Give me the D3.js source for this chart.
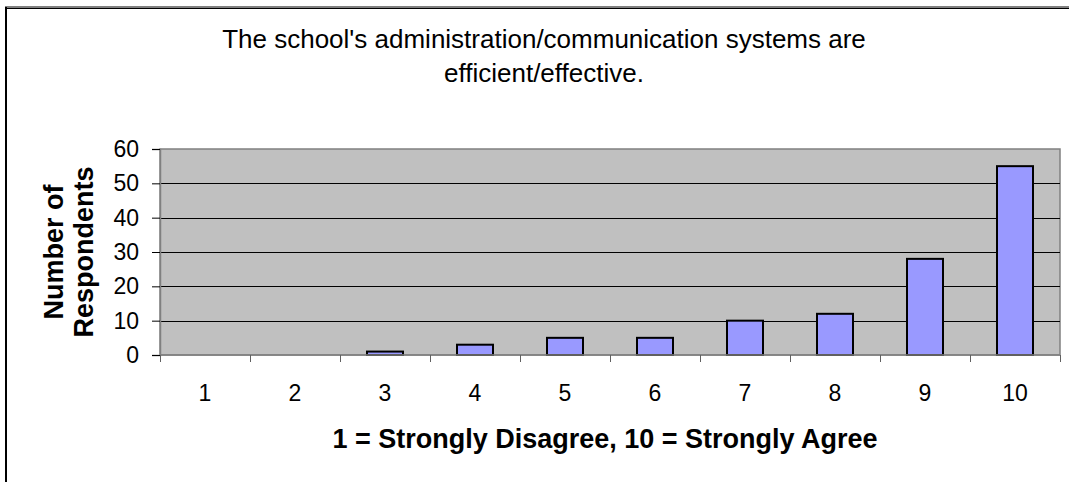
<!DOCTYPE html>
<html>
<head>
<meta charset="utf-8">
<script src="https://cdn.jsdelivr.net/npm/d3@7"></script>
<style>
  body { margin: 0; background: #fff; }
  text { font-family: "Liberation Sans", Arial, sans-serif; fill: #000; }
</style>
</head>
<body>
<div id="chart"></div>
<script>
// Survey response counts per rating
const categories = ["1", "2", "3", "4", "5", "6", "7", "8", "9", "10"];
const respondents = [0, 0, 1, 3, 5, 5, 10, 12, 28, 55];
const yTicks = [0, 10, 20, 30, 40, 50, 60];
const titleLines = ["The school's administration/communication systems are", "efficient/effective."];
const yTitleLines = ["Number of", "Respondents"];
const xTitle = "1 = Strongly Disagree, 10 = Strongly Agree";

const width = 1069, height = 482;
const margin = { top: 149, right: 9, bottom: 127, left: 160 };

const svg = d3.select("#chart")
    .append("svg")
    .attr("width", width)
    .attr("height", height);

// chart frame (cut off at right/bottom like the source)
svg.append("line").attr("x1", 5).attr("x2", width + 5).attr("y1", 7).attr("y2", 7)
    .attr("stroke", "#808080").attr("stroke-width", 2);
svg.append("line").attr("x1", 5).attr("x2", width + 5).attr("y1", 8.5).attr("y2", 8.5)
    .attr("stroke", "#000").attr("stroke-width", 1);
svg.append("line").attr("x1", 6).attr("x2", 6).attr("y1", 7).attr("y2", height + 5)
    .attr("stroke", "#000").attr("stroke-width", 2);

const x = d3.scaleBand()
    .domain(categories)
    .range([margin.left, width - margin.right])
    .paddingInner(0.6)
    .paddingOuter(0.3);

const y = d3.scaleLinear()
    .domain([0, 60])
    .range([height - margin.bottom, margin.top]);

// plot area
svg.append("rect")
    .attr("x", margin.left)
    .attr("y", margin.top)
    .attr("width", width - margin.left - margin.right)
    .attr("height", height - margin.top - margin.bottom)
    .attr("fill", "#c0c0c0")
    .attr("stroke", "#808080")
    .attr("stroke-width", 1.5);

// gridlines
svg.append("g")
    .selectAll("line")
    .data(yTicks.filter(d => d > 0 && d < 60))
    .join("line")
    .attr("x1", margin.left)
    .attr("x2", width - margin.right)
    .attr("y1", d => Math.round(y(d)) + 0.5)
    .attr("y2", d => Math.round(y(d)) + 0.5)
    .attr("stroke", "#000")
    .attr("stroke-width", 1);

// bars
svg.append("g")
    .selectAll("rect")
    .data(respondents)
    .join("rect")
    .attr("x", (d, i) => x(categories[i]))
    .attr("y", d => y(d))
    .attr("width", x.bandwidth())
    .attr("height", d => y(0) - y(d))
    .attr("fill", "#9999ff")
    .attr("stroke", d => d > 0 ? "#000" : "none")
    .attr("stroke-width", 2);

// y axis
const yAxis = svg.append("g")
    .attr("transform", `translate(${margin.left},0)`)
    .call(d3.axisLeft(y).tickValues(yTicks).tickSize(8).tickPadding(13));
yAxis.select(".domain").attr("stroke", "#808080").attr("stroke-width", 1.5);
yAxis.selectAll(".tick line").attr("stroke", "#000");
yAxis.selectAll(".tick text").style("font-size", "23px")
    .style("font-family", "'Liberation Sans', Arial, sans-serif");

// x axis: ticks at category boundaries, labels centred
const xBounds = d3.scaleLinear().domain([0, categories.length])
    .range([margin.left, width - margin.right]);
const xAxis = svg.append("g")
    .attr("transform", `translate(0,${height - margin.bottom})`);
xAxis.append("line")
    .attr("x1", margin.left).attr("x2", width - margin.right)
    .attr("stroke", "#808080").attr("stroke-width", 1.5);
xAxis.selectAll("line.tk")
    .data(d3.range(categories.length + 1))
    .join("line")
    .attr("class", "tk")
    .attr("x1", d => Math.round(xBounds(d)) + 0.5)
    .attr("x2", d => Math.round(xBounds(d)) + 0.5)
    .attr("y1", 0).attr("y2", 7)
    .attr("stroke", "#606060");
xAxis.selectAll("text")
    .data(categories)
    .join("text")
    .attr("x", d => x(d) + x.bandwidth() / 2)
    .attr("y", 46)
    .attr("text-anchor", "middle")
    .style("font-size", "23px")
    .text(d => d);

// titles
svg.append("g")
    .selectAll("text")
    .data(titleLines)
    .join("text")
    .attr("x", 544)
    .attr("y", (d, i) => 48 + i * 34)
    .attr("text-anchor", "middle")
    .style("font-size", "26px")
    .text(d => d);

svg.append("g")
    .selectAll("text")
    .data(yTitleLines)
    .join("text")
    .attr("transform", (d, i) => `translate(${63 + i * 30},${(margin.top + height - margin.bottom) / 2}) rotate(-90)`)
    .attr("text-anchor", "middle")
    .style("font-size", "27px")
    .style("font-weight", "bold")
    .text(d => d);

svg.append("text")
    .attr("x", 605)
    .attr("y", 448)
    .attr("text-anchor", "middle")
    .style("font-size", "27px")
    .style("font-weight", "bold")
    .text(xTitle);
</script>
</body>
</html>
